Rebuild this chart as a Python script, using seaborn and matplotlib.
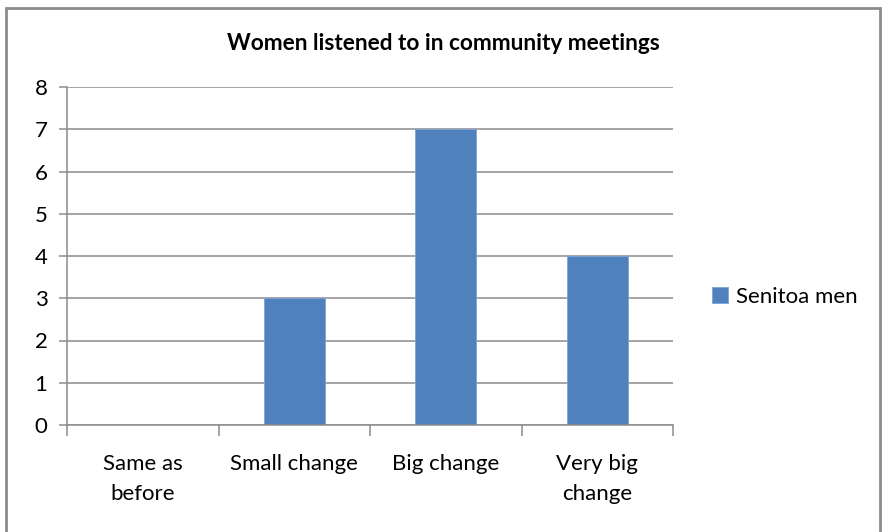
import matplotlib
matplotlib.use("Agg")
import matplotlib.pyplot as plt
import seaborn as sns
import pandas as pd
from matplotlib.patches import Rectangle

# Survey responses
categories = ["Same as\nbefore", "Small change", "Big change", "Very big\nchange"]
counts = [0, 3, 7, 4]
series_name = "Senitoa men"
title = "Women listened to in community meetings"
y_ticks = [0, 1, 2, 3, 4, 5, 6, 7, 8]

BAR = "#4F81BD"
GRID = "#8C8C8C"
TEXT = "#000000"

sns.set_theme(style="white")
plt.rcParams["font.family"] = ["Lato", "DejaVu Sans"]

fig = plt.figure(figsize=(8.82, 5.32), dpi=100)
ax = fig.add_axes([67 / 882, 1 - 425 / 532, (673 - 67) / 882, (425 - 87) / 532])

df = pd.DataFrame({"category": categories, "count": counts})
sns.barplot(data=df, x="category", y="count", color=BAR, width=0.4,
            saturation=1, label=series_name, ax=ax, edgecolor="#7FA3D4", linewidth=0.6)

ax.set_xlim(-0.5, len(categories) - 0.5)
ax.set_ylim(0, 8)
ax.set_yticks(y_ticks)
ax.yaxis.grid(True, color=GRID, linewidth=1.1)
ax.set_axisbelow(True)
ax.set_xlabel("")
ax.set_ylabel("")

for side in ("top", "right"):
    ax.spines[side].set_visible(False)
for side in ("left", "bottom"):
    ax.spines[side].set_color(GRID)
    ax.spines[side].set_linewidth(1.1)

# category boundaries marked by minor ticks, labels centred on majors
ax.set_xticks([i - 0.5 for i in range(len(categories) + 1)], minor=True)
ax.tick_params(axis="x", which="major", bottom=True, length=0, pad=21, labelsize=16, colors=TEXT)
ax.tick_params(axis="x", which="minor", bottom=True, length=8, width=1.1, color=GRID, direction="out")
ax.tick_params(axis="y", which="major", left=True, length=6, width=1.1, color=GRID, direction="out",
               labelsize=16, labelcolor=TEXT, pad=8)
for lbl in ax.get_xticklabels():
    lbl.set_linespacing(1.6)
    lbl.set_verticalalignment("top")

fig.text(443 / 882, 1 - 43 / 532, title, ha="center", va="center",
         fontsize=16.3, fontweight="bold", color=TEXT)

leg = ax.legend(loc="center left", bbox_to_anchor=(712 / 882, 1 - 297 / 532),
                bbox_transform=fig.transFigure, frameon=False, fontsize=16,
                handlelength=0.7, handleheight=0.7, handletextpad=0.4,
                borderpad=0, borderaxespad=0, labelcolor=TEXT)

# chart border
fig.patches.append(Rectangle((5.5 / 882, -0.05), (880 - 5.5) / 882, 1.05 - 8 / 532,
                             transform=fig.transFigure, fill=False,
                             edgecolor="#8C8C8C", linewidth=2))

fig.savefig("out.png", dpi=100)
